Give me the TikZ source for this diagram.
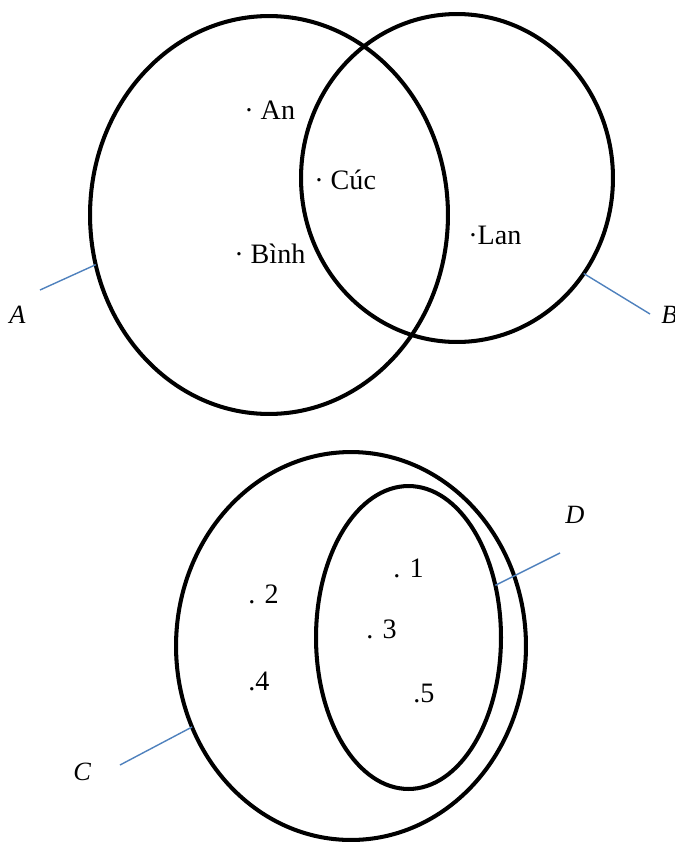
\documentclass[tikz,border=0pt]{standalone}
\usepackage{fontspec}
\setmainfont{Liberation Serif}
\usetikzlibrary{shapes.geometric}
\definecolor{pointerblue}{RGB}{79,129,189}
\begin{document}
\begin{tikzpicture}[x=0.02cm,y=-0.02cm,
    set/.style={draw,ellipse,line width=2.3pt,inner sep=0pt,outer sep=0pt},
    elem/.style={anchor=base west,inner sep=0pt,font=\fontsize{16}{19}\selectfont},
    num/.style={anchor=base west,inner sep=0pt,font=\fontsize{16}{19}\selectfont},
    setname/.style={anchor=base west,inner sep=0pt,font=\fontsize{15}{18}\selectfont\itshape},
    pointer/.style={draw=pointerblue,line width=0.8pt}]
            \useasboundingbox (0,0) rectangle (675,842);
            % Sets A and B
            \node[set,minimum width=7.16cm,minimum height=7.96cm] (setA) at (269,215) {};
            \node[set,minimum width=6.24cm,minimum height=6.56cm] (setB) at (457,178) {};
            % Elements
            \node[elem] (an) at (244,119) {· An};
            \node[elem] (cuc) at (314,189) {· Cúc};
            \node[elem] (binh) at (234,263) {· Bình};
            \node[elem] (lan) at (468,244) {·Lan};
            % Labels
            \node[setname] (labA) at (9,323) {A};
            \node[setname] (labB) at (661,323) {B};
            \coordinate (tipA) at (40,290);
            \coordinate (tipB) at (650,314);
            \draw[pointer] (setA.196.5) -- (tipA);
            \draw[pointer] (setB.323) -- (tipB);
            % Sets C and D
            \node[set,minimum width=7.0cm,minimum height=7.76cm] (setC) at (351,646) {};
            \node[set,minimum width=3.7cm,minimum height=6.06cm] (setD) at (408.5,637.5) {};
            % Elements
            \node[num] (one) at (393,577) {. 1};
            \node[num] (two) at (248,603) {. 2};
            \node[num] (three) at (366,638) {. 3};
            \node[num] (four) at (248,690) {.4};
            \node[num] (five) at (413,702) {.5};
            % Labels
            \node[setname] (labC) at (73,780) {C};
            \node[setname] (labD) at (565,523) {D};
            \coordinate (tipC) at (120,765);
            \coordinate (tipD) at (560,553);
            \draw[pointer] (setC.207.9) -- (tipC);
            \draw[pointer] (setD.31.9) -- (tipD);
        \end{tikzpicture}
\end{document}
